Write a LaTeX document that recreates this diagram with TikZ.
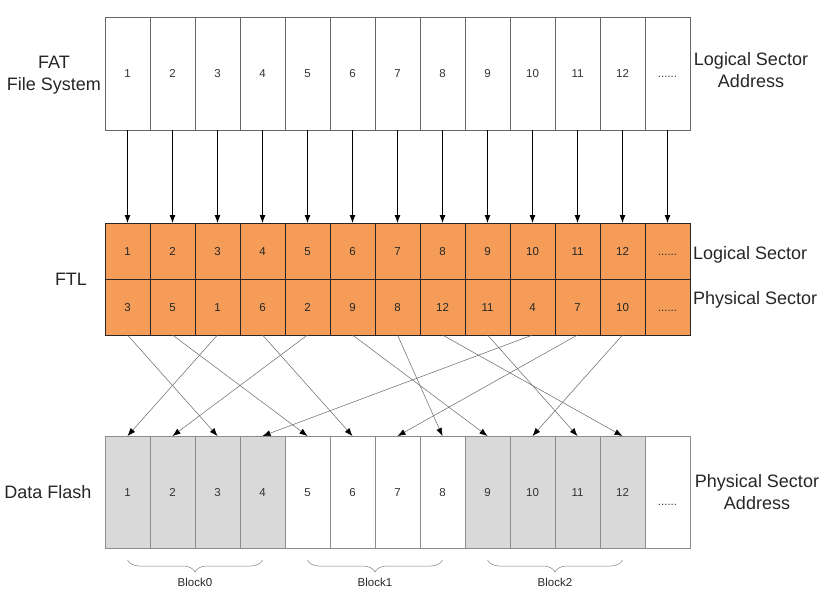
\documentclass[tikz,border=0pt]{standalone}
\usepackage{fontspec}
\setmainfont{Liberation Sans}
\usepackage{xcolor}
\usetikzlibrary{arrows.meta, math, positioning, decorations.pathreplacing}
\definecolor{ftlorange}{RGB}{245,157,88}
\definecolor{flashgray}{RGB}{217,217,217}

\begin{document}
\begin{tikzpicture}[x=1pt, y=-1pt,
  sector/.style={draw=black!60, line width=0.6pt, minimum width=45pt, minimum height=112.5pt,
    inner sep=0pt, outer sep=0pt, anchor=north west, text=black!80,
    text height=8.2pt, text depth=0pt, font=\fontsize{11.5}{12}\selectfont},
  ftlsector/.style={sector, draw=black!85, line width=0.8pt, fill=ftlorange, minimum height=56pt, text=black!85},
  flashsector/.style={sector, draw=black!45, minimum height=112pt},
  feed/.style={line width=0.9pt, -{Latex[length=8pt, width=6pt]}},
  mapline/.style={draw=black!60, line width=0.5pt, -{Latex[length=8pt, width=6pt, color=black]}},
  caption/.style={font=\fontsize{18}{22.5}\selectfont, align=center, text=black!85, inner sep=0pt},
  blockbrace/.style={draw=black!50, line width=0.5pt, decorate, decoration={brace, mirror, amplitude=12pt}},
  blocktext/.style={font=\fontsize{11.5}{12}\selectfont, text=black!85, inner sep=0pt}
]
\tikzmath{
\xo=105;
\w=45;
}
\useasboundingbox (0,0) rectangle (838,600);

% FAT file system row
\foreach \i in {1,...,12}{
\node[sector] (fat\i) at ({\xo+\w*(\i-1)},17.5) {\i};
}
\node[sector] (fat13) at ({\xo+\w*12},17.5) {......};

% FTL table
\foreach \i/\p in {1/3,2/5,3/1,4/6,5/2,6/9,7/8,8/12,9/11,10/4,11/7,12/10}{
\node[ftlsector] (lsec\i) at ({\xo+\w*(\i-1)},223) {\i};
\node[ftlsector] (psec\i) at ({\xo+\w*(\i-1)},279) {\p};
}
\node[ftlsector] (lsec13) at ({\xo+\w*12},223) {......};
\node[ftlsector] (psec13) at ({\xo+\w*12},279) {......};

% data flash row
\foreach \i/\f in {1/flashgray,2/flashgray,3/flashgray,4/flashgray,5/white,6/white,
  7/white,8/white,9/flashgray,10/flashgray,11/flashgray,12/flashgray}{
\node[flashsector, fill=\f] (flash\i) at ({\xo+\w*(\i-1)},436) {\i};
}
\node[flashsector, fill=white] (flash13) at ({\xo+\w*12},436) {\raisebox{-9pt}{......}};

% logical sector to FTL
\foreach \i in {1,...,13}{
\draw[feed] (fat\i.south) -- (lsec\i.north);
}

% FTL to physical sector
\foreach \i/\p in {1/3,2/5,3/1,4/6,5/2,6/9,7/8,8/12,9/11,10/4,11/7,12/10}{
\draw[mapline] (psec\i.south) -- (flash\p.north);
}

% blocks
\draw[blockbrace] ([yshift=-12pt]flash1.south) -- ([yshift=-12pt]flash4.south)
  node[midway, below=18pt, blocktext] (blk0) {Block0};
\draw[blockbrace] ([yshift=-12pt]flash5.south) -- ([yshift=-12pt]flash8.south)
  node[midway, below=18pt, blocktext] (blk1) {Block1};
\draw[blockbrace] ([yshift=-12pt]flash9.south) -- ([yshift=-12pt]flash12.south)
  node[midway, below=18pt, blocktext] (blk2) {Block2};

% captions
\node[caption] (fatlbl) at (54,75) {FAT\\File System};
\node[caption] (ftllbl) at (71,279) {FTL};
\node[caption] (flashlbl) at (48,492) {Data Flash};
\node[caption] (lsaddr) at (751,70) {Logical Sector\\Address};
\node[caption, anchor=west] (lseclbl) at (693,255) {Logical Sector};
\node[caption, anchor=west] (pseclbl) at (693,300) {Physical Sector};
\node[caption] (psaddr) at (757,492) {Physical Sector\\Address};

\end{tikzpicture}
\end{document}
